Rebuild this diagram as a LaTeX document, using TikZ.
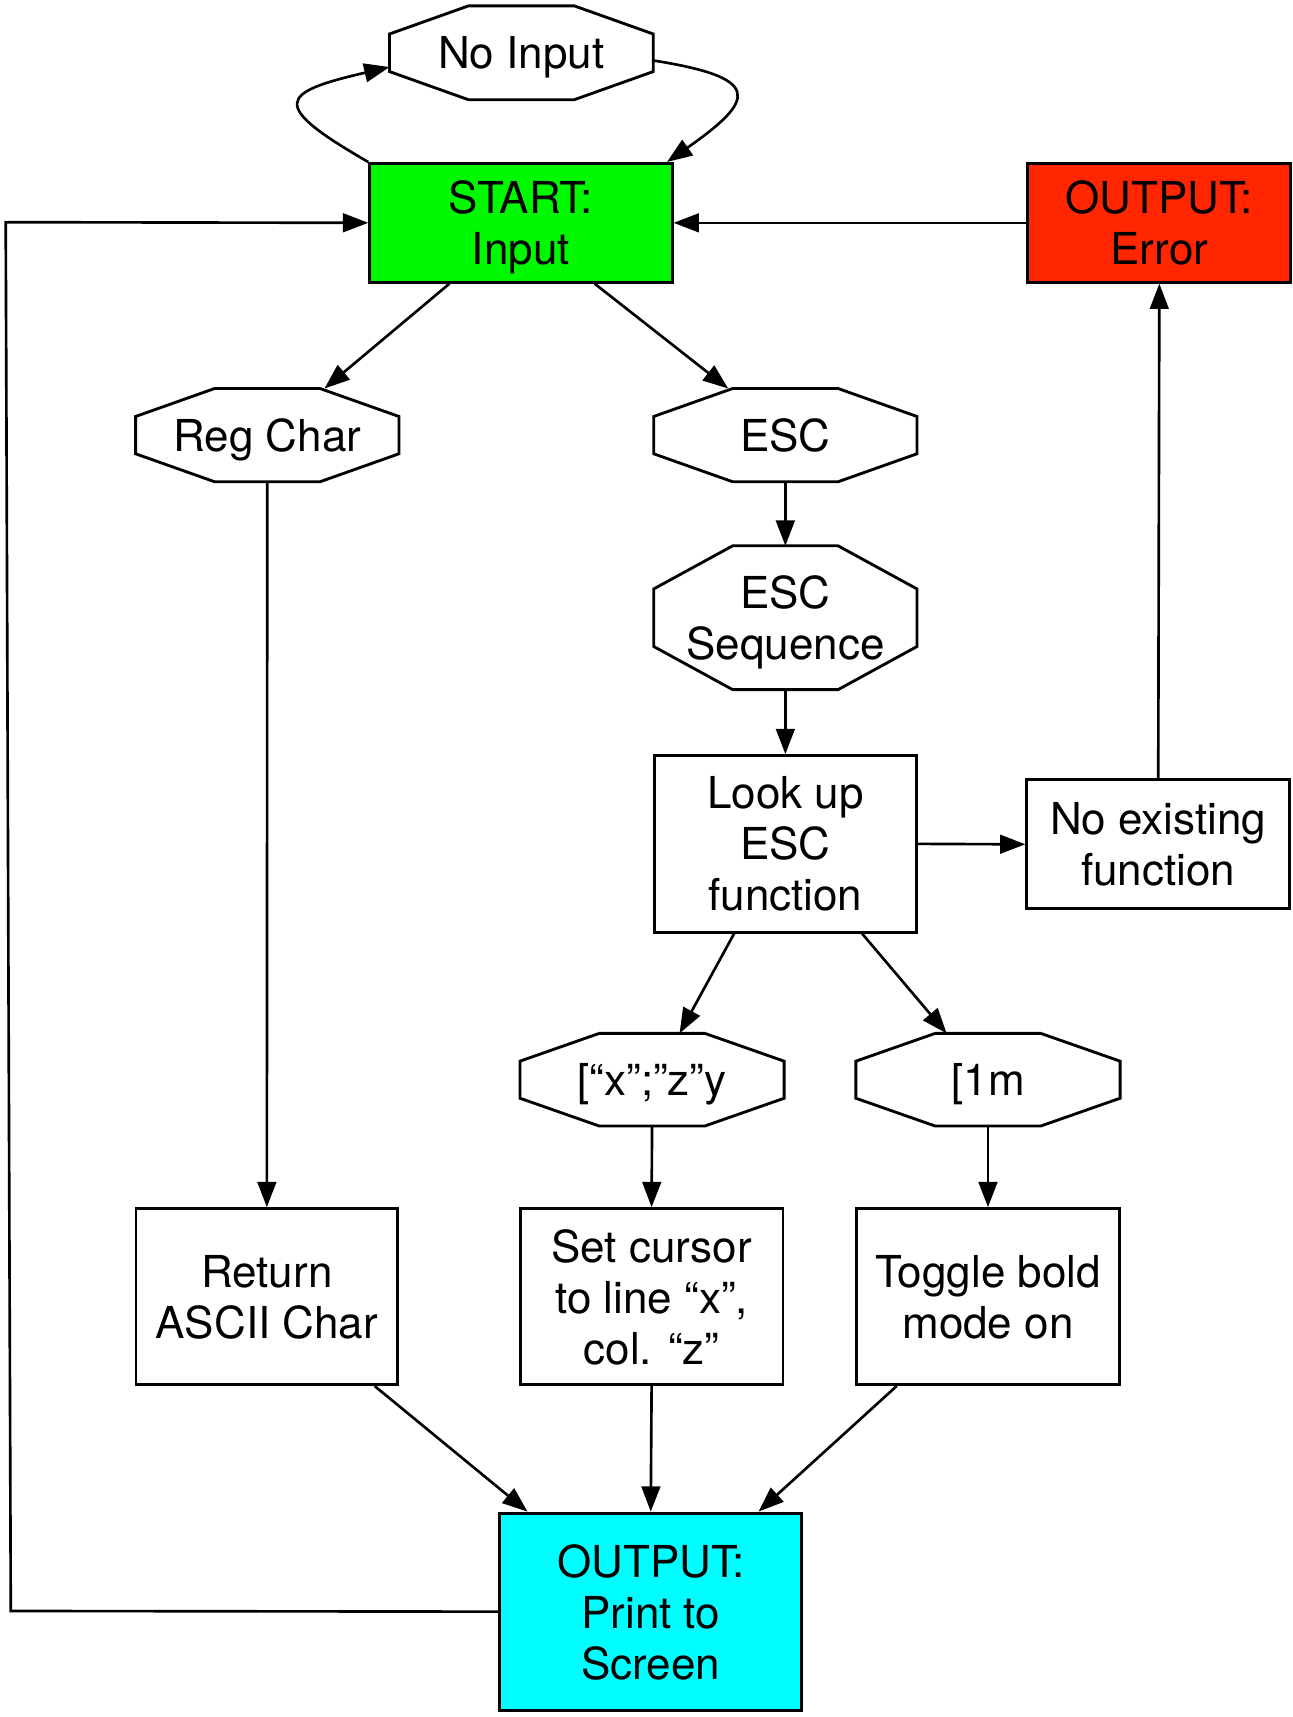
\documentclass[tikz,border=0pt]{standalone}
\usepackage{fontspec}
\setmainfont{TeX Gyre Heros}
\usetikzlibrary{arrows.meta,calc}

\definecolor{startgreen}{RGB}{0,249,0}
\definecolor{errorred}{RGB}{255,38,0}
\definecolor{printcyan}{RGB}{0,253,255}

\begin{document}
\begin{tikzpicture}[x=1pt,y=1pt,
  box/.style={draw, line width=1.3pt, inner sep=0pt, text depth=0pt, align=center, font=\fontsize{20}{23.2}\selectfont},
  oct/.style={inner sep=0pt, text depth=0pt, align=center, font=\fontsize{20}{23.2}\selectfont},
  arr/.style={-{Triangle[length=11.5pt,width=8.5pt]}, line width=1.2pt}]

  % Fix the page size
  \useasboundingbox (0,0) rectangle (587.5,-780.5);

  % Top row: no input, start and error
  \node[oct, minimum width=119.5pt, minimum height=42.3pt] (noinput) at (237,-24) {No Input};
  \node[box, fill=startgreen, minimum width=137.5pt, minimum height=54pt] (start) at (236.8,-101.3) {START:\\Input};
  \node[box, fill=errorred, minimum width=119.5pt, minimum height=54pt] (error) at (527,-101.3) {OUTPUT:\\Error};

  % Regular characters and the escape branch
  \node[oct, minimum width=119.3pt, minimum height=42pt] (regchar) at (121.5,-197.8) {Reg Char};
  \node[oct, minimum width=119.3pt, minimum height=42pt] (esc) at (357,-197.8) {ESC};
  \node[oct, minimum width=119.3pt, minimum height=65pt] (escseq) at (357,-280.8) {ESC\\Sequence};
  \node[box, minimum width=119.3pt, minimum height=80.3pt] (lookup) at (357,-383.6) {Look up\\ESC\\function};
  \node[box, minimum width=119.5pt, minimum height=58.7pt] (noexist) at (526.5,-383.8) {No existing\\function};

  % The two sequences
  \node[oct, minimum width=119.7pt, minimum height=41.7pt] (brx) at (296.4,-490.8) {[“x”;”z”y};
  \node[oct, minimum width=119.7pt, minimum height=41.7pt] (onem) at (449.1,-490.8) {[1m};

  % Actions
  \node[box, minimum width=119pt, minimum height=80pt] (return) at (121.3,-589.4) {Return\\ASCII Char};
  \node[box, minimum width=119.5pt, minimum height=80pt] (setcur) at (296.2,-589.4) {Set cursor\\to line “x”,\\col. “z”};
  \node[box, minimum width=119.5pt, minimum height=80pt] (toggle) at (449.1,-589.4) {Toggle bold\\mode on};

  % Output to screen
  \node[box, fill=printcyan, minimum width=137.4pt, minimum height=89.6pt] (print) at (295.8,-732.6) {OUTPUT:\\Print to\\Screen};

  % Draw the octagons round the decision nodes
  \foreach \n in {noinput,regchar,esc,escseq,brx,onem}
    \draw[line width=1.3pt]
      ($(\n.north west)!.3!(\n.north east)$) -- ($(\n.north west)!.7!(\n.north east)$)
      -- ($(\n.north east)!.3!(\n.south east)$) -- ($(\n.north east)!.7!(\n.south east)$)
      -- ($(\n.south east)!.3!(\n.south west)$) -- ($(\n.south east)!.7!(\n.south west)$)
      -- ($(\n.south west)!.3!(\n.north west)$) -- ($(\n.south west)!.7!(\n.north west)$)
      -- cycle;

  % Loop through no input
  \draw[arr] (start.north west) to[out=150,in=193,looseness=3] ([yshift=-6.5pt]noinput.west);
  \draw[arr] ([yshift=-3.5pt]noinput.east) to[out=-9,in=35,looseness=2.75] ([xshift=-3pt]start.north east);

  % Main flow
  \draw[arr] ([xshift=-32.5pt]start.south) -- ([xshift=26pt]regchar.north);
  \draw[arr] ([xshift=33.5pt]start.south) -- ([xshift=-26pt]esc.north);
  \draw[arr] (esc.south) -- (escseq.north);
  \draw[arr] (escseq.south) -- (lookup.north);
  \draw[arr] (lookup.east) -- (noexist.west);
  \draw[arr] (noexist.north) -- (error.south);
  \draw[arr] (error.west) -- (start.east);
  \draw[arr] ([xshift=-23.3pt]lookup.south) -- ([xshift=12.5pt]brx.north);
  \draw[arr] ([xshift=34.9pt]lookup.south) -- ([xshift=-18.8pt]onem.north);
  \draw[arr] (regchar.south) -- (return.north);
  \draw[arr] (brx.south) -- (setcur.north);
  \draw[arr] (onem.south) -- (toggle.north);
  \draw[arr] ([xshift=49pt]return.south) -- ([xshift=-56pt]print.north);
  \draw[arr] (setcur.south) -- (print.north);
  \draw[arr] ([xshift=-41.5pt]toggle.south) -- ([xshift=49pt]print.north);

  % Back to the start
  \coordinate (backlow) at (4.9,-732.3);
  \coordinate (backtop) at (2.6,-101);
  \draw[arr] (print.west) -- (backlow) -- (backtop) -- (start.west);

\end{tikzpicture}
\end{document}
